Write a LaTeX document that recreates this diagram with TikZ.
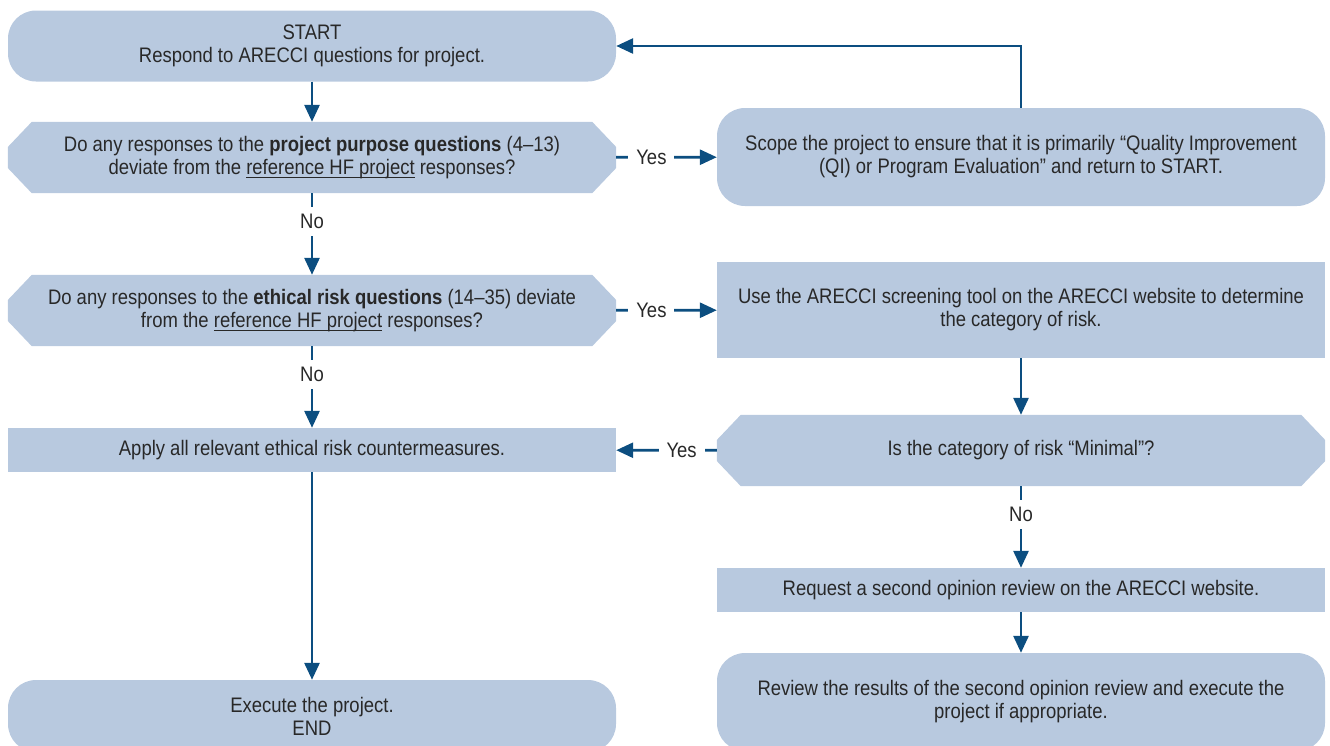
\documentclass[tikz,border=0pt]{standalone}
\usepackage{fontspec}
\setmainfont{Liberation Sans}[FakeStretch=0.88]
\usetikzlibrary{arrows.meta,backgrounds}
\definecolor{boxfill}{RGB}{184,201,223}
\definecolor{arrowblue}{RGB}{12,78,128}
\definecolor{txt}{RGB}{40,40,40}
\newcommand\myul[1]{\setbox0=\hbox{#1}\rlap{\rule[-3pt]{\wd0}{0.9pt}}\box0\relax}
\begin{document}
\begin{tikzpicture}[x=1pt,y=-1pt,
  every node/.style={font=\fontsize{21}{23}\selectfont, text=txt, align=center, inner sep=0pt},
  roundbox/.style={rectangle, rounded corners=28pt, fill=boxfill, minimum width=608pt},
  sqbox/.style={rectangle, fill=boxfill, minimum width=608pt},
  decbox/.style={rectangle, minimum width=608pt, minimum height=71pt},
  decfill/.style={fill=boxfill},
  arr/.style={draw=arrowblue, line width=2.8pt, -{Triangle[length=17pt,width=15pt]}},
  lbl/.style={fill=white, inner xsep=8pt, inner ysep=7pt, pos=0.35}
]
\useasboundingbox (0,0) rectangle (1330,745);
\clip (0,0) rectangle (1330,745);

\node[roundbox, minimum height=71pt] (start) at (312,46) {START\\Respond to ARECCI questions for project.};
\node[decbox] (d1) at (312,157.5) {Do any responses to the \textbf{project purpose questions} (4--13)\\deviate from the \myul{reference HF project} responses?};
\node[roundbox, minimum height=98pt] (scope) at (1021,157) {Scope the project to ensure that it is primarily “Quality Improvement\\(QI) or Program Evaluation” and return to START.};
\node[decbox] (d2) at (312,310.5) {Do any responses to the \textbf{ethical risk questions} (14--35) deviate\\from the \myul{reference HF project} responses?};
\node[sqbox, minimum height=96pt] (screen) at (1021,310) {Use the ARECCI screening tool on the ARECCI website to determine\\the category of risk.};
\node[sqbox, minimum height=44pt] (apply) at (312,450) {Apply all relevant ethical risk countermeasures.};
\node[decbox] (d3) at (1021,450.5) {Is the category of risk “Minimal”?};
\node[sqbox, minimum height=44pt] (request) at (1021,590) {Request a second opinion review on the ARECCI website.};
\node[roundbox, minimum height=98pt] (review) at (1021,702) {Review the results of the second opinion review and execute the\\project if appropriate.};
\node[roundbox, minimum height=72pt] (execute) at (312,716) {Execute the project.\\END};

\begin{scope}[on background layer]
\foreach \d in {d1,d2,d3}{
  \fill[decfill] ([xshift=24pt]\d.north west) -- ([xshift=-24pt]\d.north east)
    -- ([yshift=10.5pt]\d.east) -- ([yshift=-10.5pt]\d.east)
    -- ([xshift=-24pt]\d.south east) -- ([xshift=24pt]\d.south west)
    -- ([yshift=-10.5pt]\d.west) -- ([yshift=10.5pt]\d.west) -- cycle;
}
\end{scope}

\draw[arr] (start) -- (d1);
\draw[arr] (d1) -- node[lbl] (y1) {Yes} (scope);
\draw[arr] (scope.north) |- (start.east);
\draw[arr] (d1) -- node[lbl] (n1) {No} (d2);
\draw[arr] (d2) -- node[lbl] (y2) {Yes} (screen);
\draw[arr] (d2) -- node[lbl] (n2) {No} (apply);
\draw[arr] (screen) -- (d3);
\draw[arr] (d3) -- node[lbl] (y3) {Yes} (apply);
\draw[arr] (d3) -- node[lbl] (n3) {No} (request);
\draw[arr] (request) -- (review);
\draw[arr] (apply) -- (execute);
\end{tikzpicture}
\end{document}
